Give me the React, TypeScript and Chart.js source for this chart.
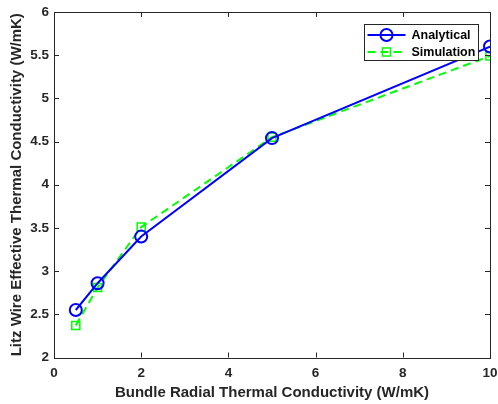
import React, { useEffect, useRef } from "react";
import { Chart, registerables } from "chart.js";

Chart.register(...registerables);

const xValues = [0.5, 1, 2, 5, 10];
const analytical = [2.55, 2.86, 3.4, 4.54, 5.6];
const simulation = [2.37, 2.81, 3.51, 4.55, 5.49];
const seriesNames = ["Analytical", "Simulation"];
const xTitle = "Bundle Radial Thermal Conductivity (W/mK)";
const yTitle = "Litz Wire Effective Thermal Conductivity (W/mK)";

const AXIS = "#262626";
const FONT = "'Liberation Sans', Arial, sans-serif";

const framePlugin = {
  id: "matlabFrame",
  afterDraw(chart: any) {
    const { ctx, chartArea: a, scales } = chart;
    ctx.save();
    ctx.strokeStyle = AXIS;
    ctx.lineWidth = 1;
    ctx.strokeRect(Math.round(a.left) + 0.5, Math.round(a.top) + 0.5, Math.round(a.right - a.left), Math.round(a.bottom - a.top));
    const tl = 5;
    ctx.beginPath();
    scales.x.ticks.forEach((t: any) => {
      const px = Math.round(scales.x.getPixelForValue(t.value)) + 0.5;
      ctx.moveTo(px, a.bottom);
      ctx.lineTo(px, a.bottom - tl);
      ctx.moveTo(px, a.top);
      ctx.lineTo(px, a.top + tl);
    });
    scales.y.ticks.forEach((t: any) => {
      const py = Math.round(scales.y.getPixelForValue(t.value)) + 0.5;
      ctx.moveTo(a.left, py);
      ctx.lineTo(a.left + tl, py);
      ctx.moveTo(a.right, py);
      ctx.lineTo(a.right - tl, py);
    });
    ctx.stroke();

    // legend
    const bx = 364.5, by = 24.5, bw = 114, bh = 36;
    ctx.fillStyle = "#ffffff";
    ctx.fillRect(bx, by, bw, bh);
    ctx.strokeStyle = AXIS;
    ctx.lineWidth = 1;
    ctx.strokeRect(bx, by, bw, bh);
    chart.data.datasets.forEach((ds: any, i: number) => {
      const cy = by + 10.5 + i * 17;
      ctx.save();
      ctx.strokeStyle = ds.borderColor;
      ctx.lineWidth = ds.borderWidth;
      ctx.setLineDash(ds.borderDash || []);
      ctx.beginPath();
      ctx.moveTo(bx + 3, cy);
      ctx.lineTo(bx + 41, cy);
      ctx.stroke();
      ctx.setLineDash([]);
      ctx.lineWidth = ds.pointBorderWidth;
      ctx.strokeStyle = ds.borderColor;
      const mx = bx + 22;
      if (ds.pointStyle === "circle") {
        ctx.beginPath();
        ctx.arc(mx, cy, ds.pointRadius, 0, Math.PI * 2);
        ctx.stroke();
      } else {
        const s = ds.pointRadius * Math.SQRT1_2;
        ctx.strokeRect(mx - s, cy - s, 2 * s, 2 * s);
      }
      ctx.restore();
      ctx.fillStyle = "#000000";
      ctx.font = "bold 12.5px " + FONT;
      ctx.textBaseline = "middle";
      ctx.textAlign = "left";
      ctx.fillText(ds.label, bx + 47, cy + 0.5);
    });
    ctx.restore();
  },
};

export default function App() {
  const ref = useRef<HTMLCanvasElement | null>(null);
  useEffect(() => {
    if (!ref.current) return;
    const chart = new Chart(ref.current, {
      type: "line",
      data: {
        datasets: [
          {
            label: seriesNames[0],
            data: xValues.map((x, i) => ({ x, y: analytical[i] })),
            borderColor: "#0000ff",
            backgroundColor: "rgba(0,0,0,0)",
            borderWidth: 2,
            pointStyle: "circle",
            pointRadius: 6,
            pointBorderWidth: 2,
            pointBackgroundColor: "rgba(0,0,0,0)",
            pointBorderColor: "#0000ff",
            tension: 0,
          },
          {
            label: seriesNames[1],
            data: xValues.map((x, i) => ({ x, y: simulation[i] })),
            borderColor: "#00ff00",
            backgroundColor: "rgba(0,0,0,0)",
            borderWidth: 2,
            borderDash: [8, 5],
            pointStyle: "rect",
            pointRadius: 5.7,
            pointBorderWidth: 1.5,
            pointBackgroundColor: "rgba(0,0,0,0)",
            pointBorderColor: "#00ff00",
            tension: 0,
          },
        ],
      },
      options: {
        animation: false,
        responsive: false,
        layout: { padding: { top: 12, right: 7, left: 0, bottom: 0 } },
        plugins: { legend: { display: false }, tooltip: { enabled: false } },
        scales: {
          x: {
            type: "linear",
            min: 0,
            max: 10,
            grid: { display: false, drawTicks: false },
            border: { display: false },
            ticks: {
              stepSize: 2,
              padding: 8,
              color: AXIS,
              font: { family: FONT, size: 13.5, weight: "bold" },
              maxRotation: 0,
              callback: (v: any) => String(v),
            },
            title: {
              display: true,
              text: xTitle,
              color: AXIS,
              padding: { top: 0, bottom: 2 },
              font: { family: FONT, size: 15, weight: "bold" },
            },
            afterFit(scale: any) {
              scale.height = 46.5;
              scale.paddingLeft = 0;
              scale.paddingRight = 0;
            },
          },
          y: {
            type: "linear",
            min: 2,
            max: 6,
            grid: { display: false, drawTicks: false },
            border: { display: false },
            ticks: {
              stepSize: 0.5,
              padding: 5,
              color: AXIS,
              font: { family: FONT, size: 13.5, weight: "bold" },
              callback: (v: any) => String(v),
            },
            title: {
              display: true,
              text: yTitle,
              color: AXIS,
              padding: { top: 8, bottom: 0 },
              font: { family: FONT, size: 15, weight: "bold" },
            },
            afterFit(scale: any) {
              scale.width = 54;
              scale.paddingTop = 0;
              scale.paddingBottom = 0;
            },
          },
        },
      },
      plugins: [framePlugin],
    } as any);
    return () => chart.destroy();
  }, []);
  return (
    <div style={{ position: "fixed", left: 0, top: 0, width: 498, height: 404, background: "#fff" }}>
      <canvas ref={ref} width={498} height={404} />
    </div>
  );
}
